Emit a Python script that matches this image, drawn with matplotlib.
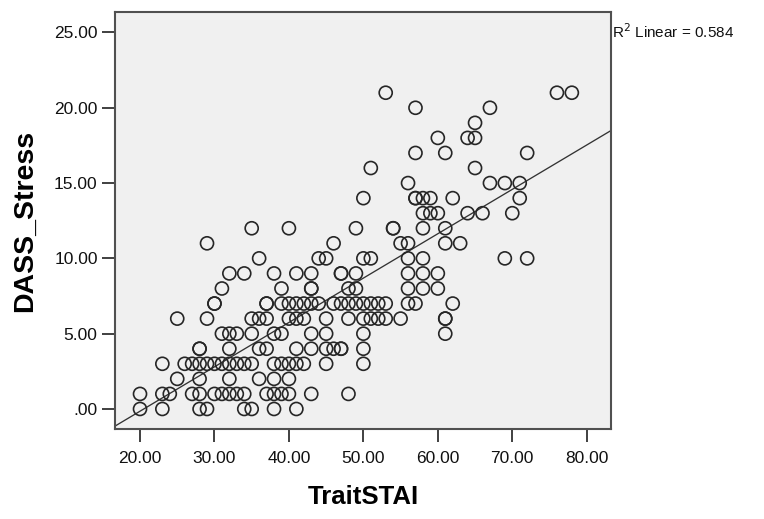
import matplotlib
matplotlib.use("Agg")
import matplotlib.pyplot as plt
import numpy as np

# ---- data (TraitSTAI value lists per DASS_Stress level) ----
stress_levels = list(range(22))
trait_by_stress = [
    [20, 23, 28, 29, 34, 35, 38, 41],                                             # 0
    [20, 23, 24, 27, 28, 30, 31, 32, 33, 34, 37, 38, 39, 40, 43, 48],             # 1
    [25, 28, 32, 36, 38, 40],                                                     # 2
    [23, 26, 27, 28, 29, 30, 31, 32, 33, 34, 35, 38, 39, 40, 41, 42, 45, 50],     # 3
    [28, 28, 32, 36, 37, 41, 43, 45, 46, 47, 47, 50],                             # 4
    [31, 32, 33, 35, 38, 39, 43, 45, 50, 61],                                     # 5
    [25, 29, 35, 36, 37, 40, 41, 42, 45, 48, 50, 51, 52, 53, 55, 61, 61],         # 6
    [30, 30, 37, 37, 39, 40, 41, 42, 43, 44, 46, 47, 48, 49, 50, 51, 52, 53, 56, 57, 62],  # 7
    [31, 39, 43, 43, 48, 49, 56, 58, 60],                                         # 8
    [32, 34, 38, 41, 43, 47, 47, 49, 56, 58, 60],                                 # 9
    [36, 44, 45, 50, 51, 56, 58, 69, 72],                                         # 10
    [29, 46, 55, 56, 61, 63],                                                     # 11
    [35, 40, 49, 54, 54, 58, 61],                                                 # 12
    [58, 59, 60, 64, 66, 70],                                                     # 13
    [50, 57, 57, 58, 59, 62, 71],                                                 # 14
    [56, 67, 69, 71],                                                             # 15
    [51, 65],                                                                     # 16
    [57, 61, 72],                                                                 # 17
    [60, 64, 65],                                                                 # 18
    [65],                                                                         # 19
    [57, 67],                                                                     # 20
    [53, 76, 78],                                                                 # 21
]
fit_intercept = -6.04
fit_slope = 0.2946
r2_text = "0.584"
x_ticks = [20, 30, 40, 50, 60, 70, 80]
y_ticks = [0, 5, 10, 15, 20, 25]

trait = []
stress = []
for lvl, xs in zip(stress_levels, trait_by_stress):
    for v in xs:
        trait.append(v)
        stress.append(lvl)
trait = np.array(trait, dtype=float)
stress = np.array(stress, dtype=float)

plt.rcParams['font.family'] = ['Liberation Sans', 'DejaVu Sans']

W, H = 764, 519
fig = plt.figure(figsize=(W / 100, H / 100), dpi=100)
fig.patch.set_facecolor('white')
L, R, T, B = 115, 611, 12, 429
ax = fig.add_axes([L / W, (H - B) / H, (R - L) / W, (B - T) / H])
ax.set_facecolor('#f0f0f0')

xlim = (16.64, 83.26)
ylim = (-1.33, 26.36)
ax.set_xlim(*xlim)
ax.set_ylim(*ylim)

ax.scatter(trait, stress, s=88, facecolors='none', edgecolors='#262626',
           linewidths=1.2, zorder=3)

xx = np.array(xlim)
ax.plot(xx, fit_intercept + fit_slope * xx, color='#333333', lw=0.95, zorder=2)

ax.set_xticks(x_ticks)
ax.set_xticklabels([f"{v:.2f}" for v in x_ticks])
ax.set_yticks(y_ticks)
ax.set_yticklabels([f"{v:.2f}".lstrip('0') if v == 0 else f"{v:.2f}" for v in y_ticks])

for sp in ax.spines.values():
    sp.set_color('#505050')
    sp.set_linewidth(1.5)
ax.tick_params(axis='both', direction='out', length=9.5, width=1.4,
               color='#404040', labelsize=12.5, labelcolor='#111111')
ax.tick_params(axis='x', pad=6)
ax.tick_params(axis='y', pad=3)

ax.set_xlabel('TraitSTAI', fontsize=18.5, fontweight='bold')
ax.set_ylabel('DASS_Stress', fontsize=20.5, fontweight='bold')
ax.xaxis.label.set_va('center')
ax.yaxis.label.set_va('center')
ax.xaxis.set_label_coords(0.5, -(497 - B) / (B - T))
ax.yaxis.set_label_coords((25 - L) / (R - L), 0.5)

fig.text(612 / W, 1 - 32 / H, r"R$^2$ Linear = " + r2_text, fontsize=11,
         ha='left', va='center', color='#111111')

fig.savefig('out.png', dpi=100, facecolor='white')
